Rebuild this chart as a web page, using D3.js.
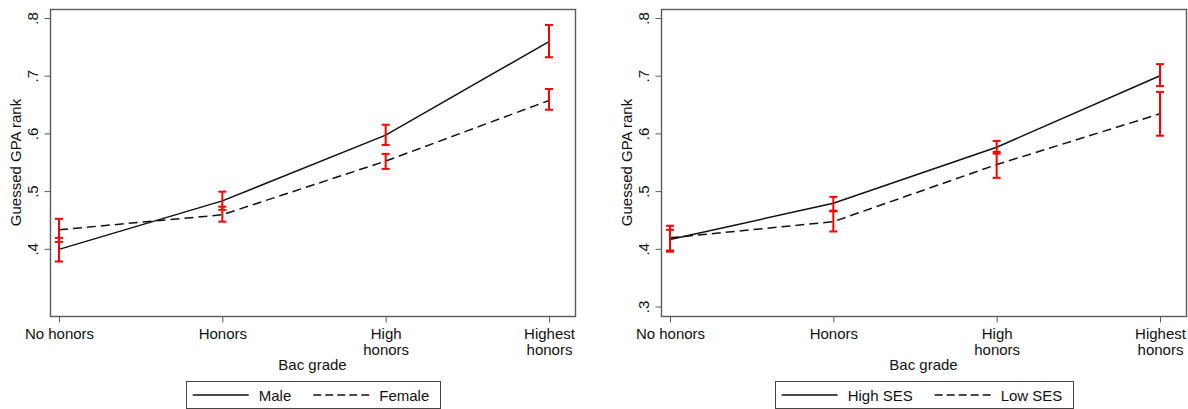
<!DOCTYPE html>
<html>
<head>
<meta charset="utf-8">
<script src="https://cdn.jsdelivr.net/npm/d3@7"></script>
<style>
  html, body { margin: 0; padding: 0; background: #fff; }
  svg { display: block; font-family: "Liberation Sans", Arial, sans-serif; }
</style>
</head>
<body>
<svg id="chart" width="1188" height="409"></svg>
<script>
// ---- data ----
const categories = ["No honors", "Honors", "High honors", "Highest honors"];
const tickLabelLines = [["No honors"], ["Honors"], ["High", "honors"], ["Highest", "honors"]];

const maleMean   = [0.399, 0.483, 0.597, 0.759];
const maleLo     = [0.378, 0.4675, 0.580, 0.732];
const maleHi     = [0.419, 0.499, 0.615, 0.788];
const femaleMean = [0.433, 0.459, 0.552, 0.657];
const femaleLo   = [0.412, 0.447, 0.5385, 0.641];
const femaleHi   = [0.452, 0.473, 0.5645, 0.677];

const highSesMean = [0.416, 0.479, 0.576, 0.700];
const highSesLo   = [0.397, 0.466, 0.565, 0.682];
const highSesHi   = [0.433, 0.490, 0.587, 0.720];
const lowSesMean  = [0.419, 0.447, 0.546, 0.634];
const lowSesLo    = [0.395, 0.430, 0.523, 0.596];
const lowSesHi    = [0.440, 0.465, 0.568, 0.672];

const leftYTicks  = [0.4, 0.5, 0.6, 0.7, 0.8];
const rightYTicks = [0.3, 0.4, 0.5, 0.6, 0.7, 0.8];

const xTitle = "Bac grade";
const yTitle = "Guessed GPA rank";

// ---- layout ----
const svg = d3.select("#chart");
const FONT = 15;
const boxTop = 9, boxBottom = 316;

function fmtTick(v) { return d3.format(".1f")(v).replace(/^0/, ""); }

function panel(opts) {
  const { boxLeft, boxRight, xFirst, xLast, yTicks, series, legendNames } = opts;
  const g = svg.append("g");
  const x = d3.scalePoint().domain(categories).range([xFirst, xLast]);
  const y = d3.scaleLinear().domain([0.3, 0.8]).range([306.5, 18]);

  // box
  g.append("rect")
    .attr("x", boxLeft + 0.5).attr("y", boxTop + 0.5)
    .attr("width", boxRight - boxLeft).attr("height", boxBottom - boxTop)
    .attr("fill", "none").attr("stroke", "#5a5a5a").attr("stroke-width", 1.4);

  // y axis
  const yAxis = d3.axisLeft(y).tickValues(yTicks).tickFormat(fmtTick).tickSize(6).tickPadding(3);
  const ya = g.append("g").attr("transform", `translate(${boxLeft + 0.5},0)`).call(yAxis);
  ya.select(".domain").remove();
  ya.selectAll(".tick line").attr("stroke", "#5a5a5a");
  ya.selectAll(".tick text")
    .attr("font-size", FONT).attr("fill", "#111")
    .attr("font-family", "Liberation Sans, Arial, sans-serif")
    .attr("x", null).attr("dy", null)
    .attr("text-anchor", "middle")
    .attr("transform", `translate(${-13},0) rotate(-90)`)
    .attr("y", 0);

  // y title
  g.append("text")
    .attr("transform", `translate(${boxLeft - 29},${(boxTop + boxBottom) / 2}) rotate(-90)`)
    .attr("text-anchor", "middle").attr("font-size", FONT).attr("fill", "#111")
    .text(yTitle);

  // x axis
  const xAxis = d3.axisBottom(x).tickSize(6).tickFormat(() => "");
  const xa = g.append("g").attr("transform", `translate(0,${boxBottom + 0.5})`).call(xAxis);
  xa.select(".domain").remove();
  xa.selectAll(".tick line").attr("stroke", "#5a5a5a");
  xa.selectAll(".tick").each(function(d, i) {
    const t = d3.select(this).select("text")
      .attr("font-size", FONT).attr("fill", "#111").attr("dy", null).attr("y", 0)
      .attr("text-anchor", "middle");
    tickLabelLines[i].forEach((line, k) => {
      t.append("tspan").attr("x", 0).attr("y", 22 + k * 16).text(line);
    });
  });

  // x title
  g.append("text")
    .attr("x", (boxLeft + boxRight) / 2).attr("y", 370)
    .attr("text-anchor", "middle").attr("font-size", FONT).attr("fill", "#111")
    .text(xTitle);

  // lines
  series.forEach(s => {
    const line = d3.line().x((d, i) => x(categories[i])).y(d => y(d));
    g.append("path").datum(s.mean)
      .attr("d", line).attr("fill", "none")
      .attr("stroke", "#111").attr("stroke-width", 1.5)
      .attr("stroke-dasharray", s.dashed ? "9,5" : null);
  });

  // error bars
  series.forEach(s => {
    const eb = g.append("g").attr("stroke", "#ff0000").attr("stroke-width", 2).attr("fill", "none");
    categories.forEach((c, i) => {
      const cx = x(c);
      eb.append("line").attr("x1", cx).attr("x2", cx).attr("y1", y(s.lo[i])).attr("y2", y(s.hi[i]));
      eb.append("line").attr("x1", cx - 4).attr("x2", cx + 4).attr("y1", y(s.lo[i])).attr("y2", y(s.lo[i]));
      eb.append("line").attr("x1", cx - 4).attr("x2", cx + 4).attr("y1", y(s.hi[i])).attr("y2", y(s.hi[i]));
    });
  });

  // legend
  const lg = g.append("g");
  const lineLen = 56, pad = 7, gapText = 10, gapItem = 22, padR = 10;
  const tmp = lg.append("g");
  const widths = legendNames.map(n => {
    const t = tmp.append("text").attr("font-size", FONT).text(n);
    const w = t.node().getComputedTextLength();
    t.remove();
    return w;
  });
  tmp.remove();
  const total = pad + lineLen + gapText + widths[0] + gapItem + lineLen + gapText + widths[1] + padR;
  const lx = (boxLeft + boxRight) / 2 - total / 2;
  const ly = 381, lh = 27;
  lg.append("rect").attr("x", Math.round(lx) + 0.5).attr("y", ly + 0.5)
    .attr("width", Math.round(total)).attr("height", lh)
    .attr("fill", "#fff").attr("stroke", "#444").attr("stroke-width", 1);
  let cx = lx + pad;
  legendNames.forEach((n, k) => {
    lg.append("line").attr("x1", cx).attr("x2", cx + lineLen)
      .attr("y1", ly + 14).attr("y2", ly + 14)
      .attr("stroke", "#111").attr("stroke-width", 1.3)
      .attr("stroke-dasharray", k === 1 ? "8,4" : null);
    cx += lineLen + gapText;
    lg.append("text").attr("x", cx).attr("y", ly + 19.5)
      .attr("font-size", FONT).attr("fill", "#111").text(n);
    cx += widths[k] + gapItem;
  });
}

panel({
  boxLeft: 50, boxRight: 575, xFirst: 59, xLast: 549,
  yTicks: leftYTicks,
  series: [
    { mean: maleMean, lo: maleLo, hi: maleHi, dashed: false },
    { mean: femaleMean, lo: femaleLo, hi: femaleHi, dashed: true }
  ],
  legendNames: ["Male", "Female"]
});

panel({
  boxLeft: 661, boxRight: 1186, xFirst: 670, xLast: 1160,
  yTicks: rightYTicks,
  series: [
    { mean: highSesMean, lo: highSesLo, hi: highSesHi, dashed: false },
    { mean: lowSesMean, lo: lowSesLo, hi: lowSesHi, dashed: true }
  ],
  legendNames: ["High SES", "Low SES"]
});
</script>
</body>
</html>
